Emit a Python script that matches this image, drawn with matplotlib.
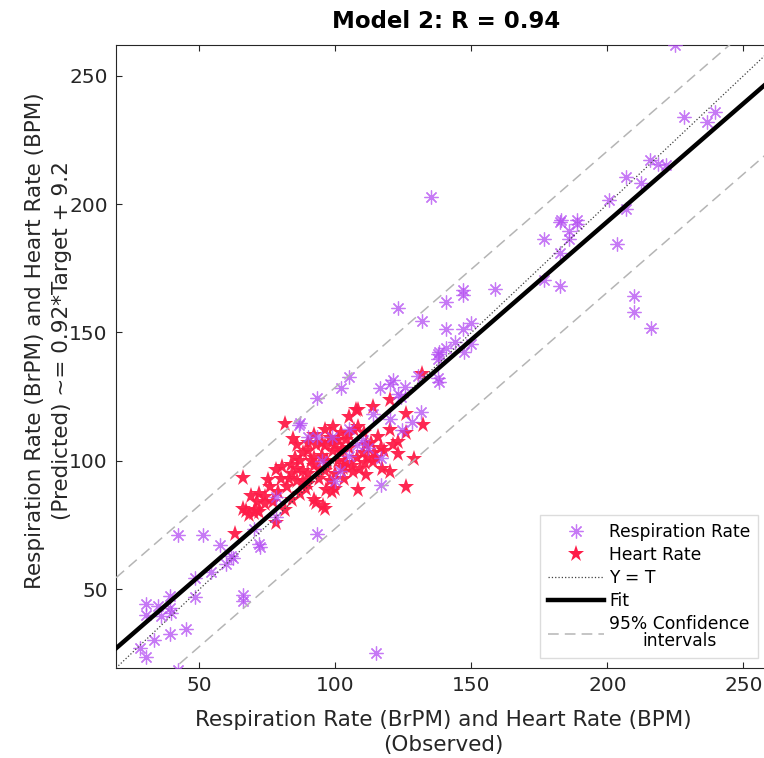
import matplotlib
matplotlib.use('Agg')
import matplotlib.pyplot as plt
from matplotlib.lines import Line2D

# Respiration rate points (observed, predicted)
resp_x = [225.0, 228.0, 239.4, 236.5, 215.7, 218.6, 221.6, 206.9, 212.5, 200.7,
          206.9, 135.0, 182.7, 188.9, 185.7, 176.8, 185.7, 182.7, 203.6, 176.8,
          182.7, 209.7, 209.7, 215.9, 122.9, 131.7, 140.7, 146.8, 146.8, 158.7,
          140.7, 146.8, 149.9, 143.9, 149.9, 138.1, 140.7, 147.2, 137.6, 137.6,
          104.9, 121.3, 130.5, 137.6, 102.0, 116.5, 119.9, 122.9, 125.7, 137.9,
          124.0, 131.4, 128.3, 113.7, 119.9, 105.1, 98.9, 116.7, 116.7, 93.1,
          87.0, 89.8, 93.1, 78.2, 78.2, 93.1, 71.8, 57.4, 70.2, 42.0,
          51.2, 72.1, 62.5, 59.8, 54.3, 48.2, 39.0, 30.4, 30.4, 34.7,
          36.0, 39.0, 39.6, 48.2, 65.9, 65.9, 33.4, 39.0, 44.9, 28.1,
          30.4, 42.0, 114.9, 105.1, 101.5, 110.0, 112.0, 95.0, 100.0, 183.0,
          189.0, 61.5, 86.5, 124.5, 108.0]
resp_y = [262.0, 233.8, 235.8, 231.9, 217.1, 215.8, 215.1, 210.6, 208.3, 201.5,
          198.1, 202.8, 193.1, 192.1, 189.5, 186.6, 186.6, 180.8, 184.3, 170.6,
          168.0, 164.3, 157.8, 151.6, 159.6, 154.4, 161.9, 166.5, 164.5, 167.1,
          151.3, 151.3, 153.7, 146.3, 145.7, 142.4, 144.0, 142.4, 141.8, 139.8,
          132.7, 131.4, 133.0, 132.1, 128.2, 128.2, 130.1, 126.2, 128.8, 130.8,
          124.9, 119.0, 115.2, 118.4, 116.4, 112.5, 109.3, 101.3, 90.5, 124.3,
          114.6, 109.4, 109.2, 86.0, 78.2, 71.4, 67.8, 67.1, 73.6, 71.3,
          71.0, 66.5, 62.0, 60.0, 56.7, 54.2, 47.3, 44.4, 40.0, 43.4,
          39.5, 42.8, 40.9, 47.0, 47.7, 45.3, 30.1, 32.7, 34.6, 27.1,
          23.5, 18.5, 25.2, 102.0, 96.2, 108.0, 105.0, 100.0, 92.0, 194.0,
          193.7, 63.0, 114.0, 112.0, 106.0]

# Heart rate points (observed, predicted)
hr_x = [63.2, 65.9, 65.9, 68.3, 70.8, 68.9, 72.0, 67.0, 70.0, 72.0,
        75.1, 78.2, 78.2, 81.3, 84.0, 81.3, 84.3, 89.8, 80.5, 83.5,
        86.0, 85.0, 88.0, 92.2, 93.0, 96.0, 96.5, 98.9, 95.6, 102.7,
        106.4, 111.3, 108.2, 97.0, 99.0, 102.0, 105.0, 108.0, 110.0, 113.7,
        116.7, 119.9, 122.9, 129.0, 125.9, 115.5, 110.6, 119.9, 125.9, 122.9,
        108.2, 105.1, 108.2, 113.7, 119.9, 125.9, 132.1, 131.8, 88.0, 90.0,
        92.0, 94.0, 96.0, 98.0, 100.0, 87.0, 90.0, 93.0, 95.0, 98.0,
        100.0, 102.0, 104.0, 92.0, 96.0, 89.0, 86.0, 84.0, 82.0, 79.0,
        77.0, 74.0, 76.0, 80.0, 102.4, 98.7, 96.2, 107.6, 111.3, 104.0,
        91.0, 94.0, 101.0, 106.0, 112.0, 117.0, 121.0, 86.0, 90.0, 103.0,
        95.0, 99.0, 103.0, 107.0, 111.0, 115.0, 88.0, 92.0, 97.0, 101.0,
        105.0, 113.0, 118.0, 83.0, 87.0, 74.0, 71.0, 100.0, 109.0, 114.0]
hr_y = [71.5, 93.5, 81.4, 78.9, 80.8, 86.4, 87.0, 80.5, 79.5, 80.0,
        92.5, 96.4, 75.7, 80.8, 84.7, 114.3, 108.4, 106.9, 97.5, 98.5,
        97.0, 101.0, 103.0, 84.7, 83.5, 81.4, 88.6, 87.9, 82.5, 97.1,
        95.8, 94.5, 88.8, 100.0, 104.0, 103.0, 105.0, 101.0, 103.0, 99.6,
        104.9, 95.7, 102.6, 100.7, 89.9, 109.3, 110.7, 112.0, 110.7, 107.4,
        113.2, 117.2, 119.8, 121.0, 123.6, 118.4, 113.9, 133.8, 92.0, 95.0,
        98.0, 93.0, 96.0, 92.0, 95.0, 100.0, 104.0, 106.0, 102.0, 109.0,
        106.0, 111.0, 108.0, 110.0, 112.0, 89.0, 92.0, 95.0, 90.0, 88.0,
        84.0, 83.0, 90.0, 93.0, 104.5, 107.1, 105.8, 119.8, 106.0, 99.0,
        100.0, 97.0, 100.0, 98.0, 101.0, 97.0, 106.0, 106.0, 91.0, 93.0,
        107.0, 113.0, 98.0, 112.0, 99.0, 101.0, 96.0, 101.0, 99.0, 108.0,
        110.0, 107.0, 104.0, 93.0, 87.0, 86.0, 84.0, 89.0, 97.0, 103.0]

fit_slope = 0.92
fit_icpt = 9.2
ci_half = 27.5
lims = [19.3, 262.0]

TXT = '#262626'
PURPLE = '#b44cf2'
RED = '#fe1c48'

fig = plt.figure(figsize=(7.64, 7.58), dpi=100)
ax = fig.add_axes([116 / 764, 90 / 758, 660 / 764, 623 / 758])

ax.plot(hr_x, hr_y, linestyle='none', marker='*', markersize=12.5,
        color=RED, markeredgewidth=0, alpha=0.95, zorder=2)
ax.plot(resp_x, resp_y, linestyle='none', marker=(8, 2, 0), markersize=10,
        color=PURPLE, markeredgewidth=0.9, alpha=0.75, zorder=3)

xx = lims
ax.plot(xx, xx, linestyle=':', color='#404040', linewidth=0.9, zorder=4)
ax.plot(xx, [fit_slope * v + fit_icpt for v in xx], color='black',
        linewidth=3.2, zorder=5)
ax.plot(xx, [fit_slope * v + fit_icpt + ci_half for v in xx], color='#b5b5b5',
        linewidth=1.1, dashes=(7, 4), zorder=4)
ax.plot(xx, [fit_slope * v + fit_icpt - ci_half for v in xx], color='#b5b5b5',
        linewidth=1.1, dashes=(7, 4), zorder=4)

ax.set_xlim(lims)
ax.set_ylim(lims)
ax.set_xticks([50, 100, 150, 200, 250])
ax.set_yticks([50, 100, 150, 200, 250])
ax.tick_params(direction='in', top=True, right=True, length=4.5,
               labelsize=14.5, colors=TXT, pad=6)
for sp in ax.spines.values():
    sp.set_color(TXT)
    sp.set_linewidth(0.8)

ax.set_xlabel('Respiration Rate (BrPM) and Heart Rate (BPM)\n(Observed)',
              fontsize=15.5, color=TXT, linespacing=1.3)
ax.set_ylabel('Respiration Rate (BrPM) and Heart Rate (BPM)\n(Predicted) ~= 0.92*Target + 9.2',
              fontsize=15.5, color=TXT, linespacing=1.45)
ax.xaxis.set_label_coords(0.4955, -0.068)
ax.yaxis.set_label_coords(-0.066, 0.526)
fig.text(446 / 764, 1 - 21 / 758, 'Model 2: R = 0.94', ha='center', va='center',
         fontsize=16.5, fontweight='bold')

handles = [
    Line2D([], [], linestyle='none', marker=(8, 2, 0), markersize=10,
           color=PURPLE, markeredgewidth=0.9, alpha=0.75),
    Line2D([], [], linestyle='none', marker='*', markersize=12.5,
           color=RED, markeredgewidth=0),
    Line2D([], [], linestyle=':', color='#404040', linewidth=0.9),
    Line2D([], [], color='black', linewidth=3.2),
    Line2D([], [], color='#b5b5b5', linewidth=1.1, dashes=(7, 4)),
]
labels = ['Respiration Rate', 'Heart Rate', 'Y = T', 'Fit',
          '95% Confidence\nintervals']
leg = ax.legend(handles, labels, loc='upper left',
                bbox_to_anchor=(540 / 764, 1 - 515 / 758),
                bbox_transform=fig.transFigure, fontsize=12.3, frameon=True,
                fancybox=False, edgecolor='#d4d4d4', handlelength=3.3,
                handletextpad=0.3, labelspacing=0.3, borderpad=0.45,
                borderaxespad=0)
leg.get_frame().set_linewidth(1.0)
leg.get_texts()[-1].set_multialignment('center')
for t in leg.get_texts():
    t.set_linespacing(0.95)

plt.savefig('out.png', dpi=100)
